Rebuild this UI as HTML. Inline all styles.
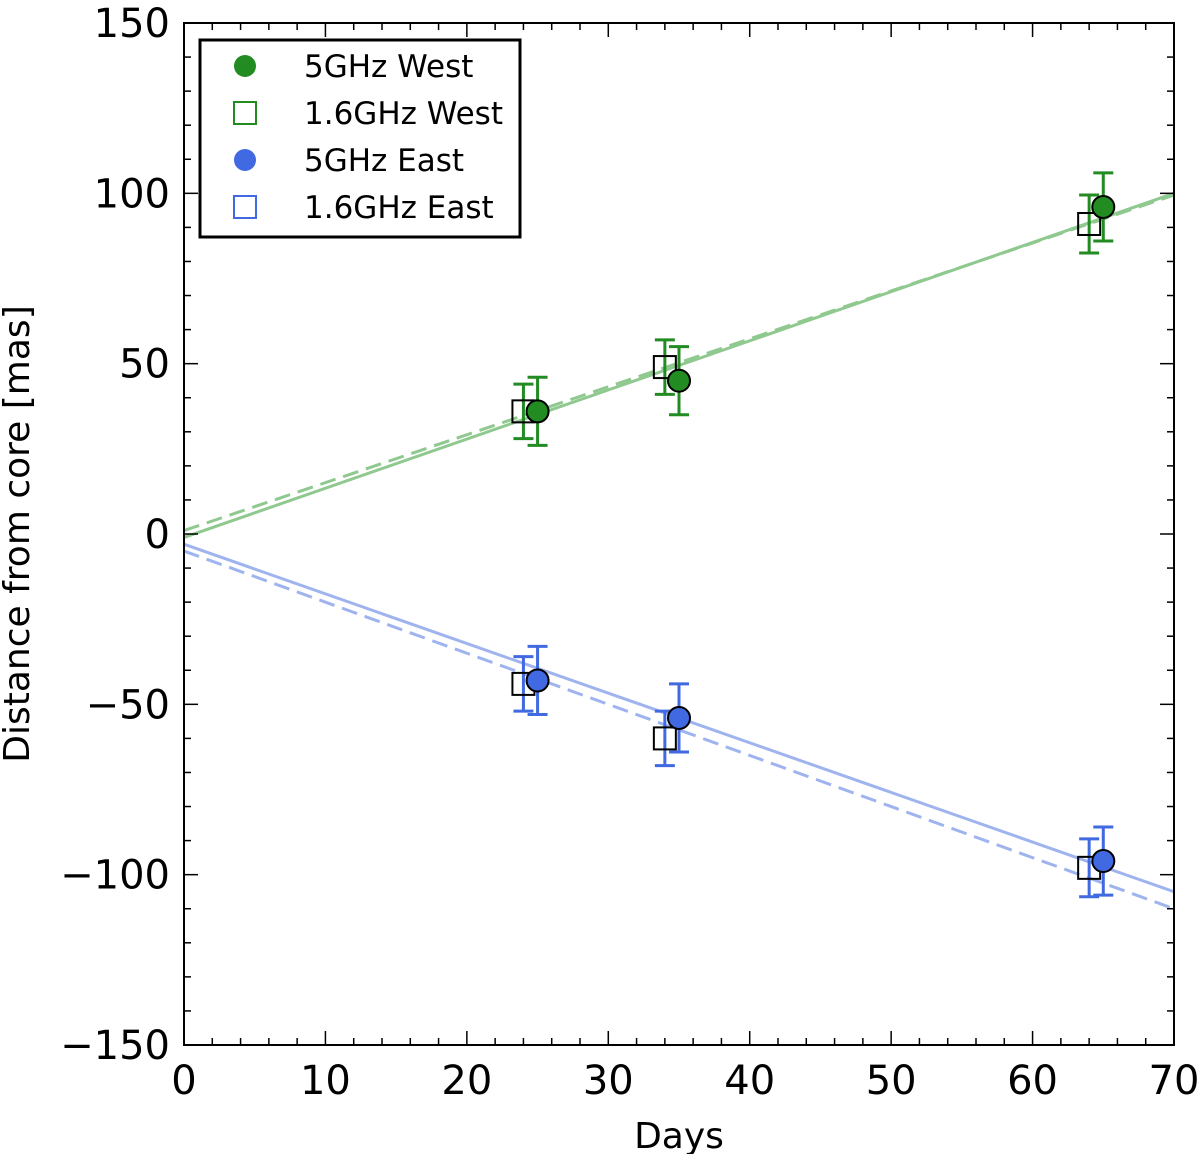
<!DOCTYPE html>
<html><head><meta charset="utf-8"><style>body{margin:0;background:#fff}svg{display:block;font-family:"DejaVu Sans","Liberation Sans",sans-serif}</style></head>
<body>
<svg id="c" width="1200" height="1154" xmlns="http://www.w3.org/2000/svg"></svg>
<script>
const days5=[25,35,65];
const days16=[24,34,64];
const west5=[36,45,96];
const west16=[36,49,91];
const east5=[-43,-54,-96];
const east16=[-44,-60,-98];
const err5=[10,10,10];
const err16=[8,8,8.5];
const fitWestSolid=[-1,100];
const fitWestDash=[1,99.5];
const fitEastSolid=[-3,-105];
const fitEastDash=[-5,-110];
const xTicks=[0,10,20,30,40,50,60,70];
const yTicks=[150,100,50,0,-50,-100,-150];
const yTickLabels=["150","100","50","0","\u221250","\u2212100","\u2212150"];
const X0=184,X1=1174,Y0=23,Y1=1045;
const sx=v=>X0+(v/70)*(X1-X0);
const sy=v=>Y0+(150-v)/300*(Y1-Y0);
const svg=document.getElementById('c');const NS='http://www.w3.org/2000/svg';
function mk(t,a,p){const e=document.createElementNS(NS,t);for(const k in a)e.setAttribute(k,a[k]);(p||svg).appendChild(e);return e;}
const G='#228B22',GL='#8fc98f',B='#4169E1',BL='#9fb4ef';
[[fitWestSolid,GL,''],[fitWestDash,GL,'16,8'],[fitEastSolid,BL,''],[fitEastDash,BL,'16,8']].forEach((f,i)=>{
 const l=mk('line',{x1:sx(0),y1:sy(f[0][0]),x2:sx(70),y2:sy(f[0][1]),stroke:f[1],'stroke-width':3,'stroke-dasharray':f[2]});
 
 
});
function errs(xs,ys,es,col){xs.forEach((x,i)=>{const g=mk('g',{stroke:col,'stroke-width':3});
 
 
 mk('line',{x1:sx(x),x2:sx(x),y1:sy(ys[i]+es[i]),y2:sy(ys[i]-es[i])},g);
 mk('line',{x1:sx(x)-10,x2:sx(x)+10,y1:sy(ys[i]+es[i]),y2:sy(ys[i]+es[i])},g);
 mk('line',{x1:sx(x)-10,x2:sx(x)+10,y1:sy(ys[i]-es[i]),y2:sy(ys[i]-es[i])},g);});}
errs(days16,west16,err16,G);errs(days5,west5,err5,G);errs(days16,east16,err16,B);errs(days5,east5,err5,B);
function sq(xs,ys,n){xs.forEach((x,i)=>{const r=mk('rect',{x:sx(x)-11,y:sy(ys[i])-11,width:22,height:22,fill:'none',stroke:'#000','stroke-width':2});
 
 });}
function ci(xs,ys,col,n){xs.forEach((x,i)=>{const c=mk('circle',{cx:sx(x),cy:sy(ys[i]),r:11,fill:col,stroke:'#000','stroke-width':2});
 
 });}
sq(days16,west16,'point-1.6ghz-west');ci(days5,west5,G,'point-5ghz-west');
sq(days16,east16,'point-1.6ghz-east');ci(days5,east5,B,'point-5ghz-east');
const fr=mk('rect',{x:X0,y:Y0,width:X1-X0,height:Y1-Y0,fill:'none',stroke:'#000','stroke-width':2});


for(let v=0;v<=70;v+=2){const L=v%10==0?14:7;mk('line',{x1:sx(v),x2:sx(v),y1:Y1,y2:Y1-L,stroke:'#000','stroke-width':1.5});mk('line',{x1:sx(v),x2:sx(v),y1:Y0,y2:Y0+L,stroke:'#000','stroke-width':1.5});}
for(let v=-150;v<=150;v+=10){const L=v%50==0?14:7;mk('line',{x1:X0,x2:X0+L,y1:sy(v),y2:sy(v),stroke:'#000','stroke-width':1.5});mk('line',{x1:X1,x2:X1-L,y1:sy(v),y2:sy(v),stroke:'#000','stroke-width':1.5});}
xTicks.forEach(v=>{const t=mk('text',{x:sx(v),y:1094,'font-size':40,'text-anchor':'middle'});t.textContent=v;
 
 });
yTicks.forEach((v,i)=>{const t=mk('text',{x:170,y:sy(v)+14,'font-size':40,'text-anchor':'end'});t.textContent=yTickLabels[i];
 
 });
const xt=mk('text',{x:sx(35),y:1148,'font-size':36,'text-anchor':'middle'});xt.textContent='Days';


const yt=mk('text',{x:0,y:0,'font-size':36,'text-anchor':'middle',transform:'translate(29,534) rotate(-90)'});yt.textContent='Distance from core [mas]';


const lg=mk('g',{});


mk('rect',{x:200,y:40,width:320,height:197,fill:'#fff',stroke:'#000','stroke-width':3},lg);
const labs=['5GHz West','1.6GHz West','5GHz East','1.6GHz East'];
labs.forEach((s,i)=>{const y=66+i*47;const col=i<2?G:B;
 if(i%2==0)mk('circle',{cx:245,cy:y,r:11,fill:col},lg);else mk('rect',{x:234,y:y-11,width:22,height:22,fill:'none',stroke:col,'stroke-width':2},lg);
 const t=mk('text',{x:304,y:y+11,'font-size':31},lg);t.textContent=s;
 
 });
</script>
</body></html>
